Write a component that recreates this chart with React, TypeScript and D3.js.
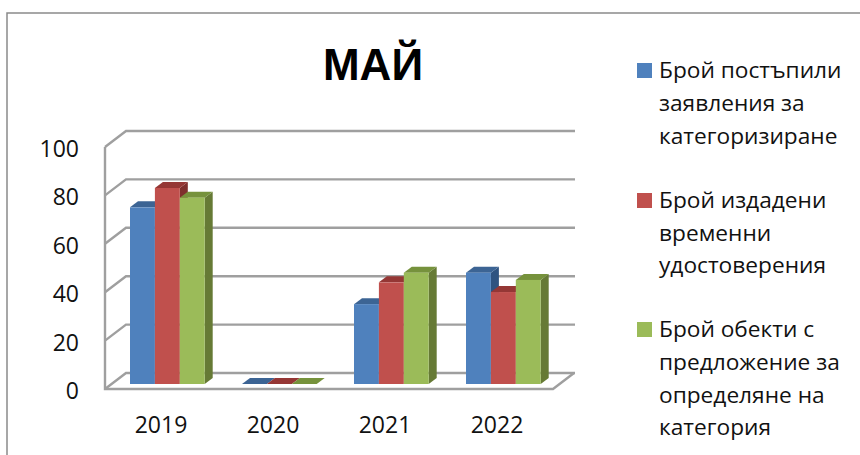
import React from "react";
import * as d3 from "d3";

const categories = ["2019", "2020", "2021", "2022"];
const posted = [73, 0, 33, 46];
const issued = [81, 0, 42, 38];
const objects = [77, 0, 46, 43];
const yTicks = [0, 20, 40, 60, 80, 100];
const title = "МАЙ";
const legendLines = [
  ["Брой постъпили", "заявления за", "категоризиране"],
  ["Брой издадени", "временни", "удостоверения"],
  ["Брой обекти с", "предложение за", "определяне на", "категория"],
];
const legendBaselines = [
  [78, 111, 144],
  [208, 241, 273],
  [337, 370, 403, 435],
];
const front = ["#4f81bd", "#c0504d", "#9bbb59"];
const top = ["#3c6494", "#953735", "#76923c"];
const side = ["#2f5380", "#7f2f2d", "#667a35"];

const FONT = "'Open Sans', sans-serif";
const wallLeft = 105;
const wallRight = 553;
const floorY = 389;
const ceilY = 147;
const dx = 21;
const dy = -16;
const barDx = 8;
const barDy = -6;

export default function App() {
  const x = d3.scaleBand<string>().domain(categories).range([wallLeft, wallRight]);
  const y = d3.scaleLinear().domain([0, 100]).range([floorY, ceilY]);
  const barW = 24.9;
  const all = [posted, issued, objects];
  const baseShiftY = -5;
  const grid = "#9f9f9f";
  return (
    <svg width={860} height={455} style={{ position: "absolute", left: 0, top: 0, background: "#fff" }}>
      <path d="M860,13 H7 V455" fill="none" stroke="#8a8a8a" strokeWidth={1.5} />
      <text x={373} y={80} textAnchor="middle" fontFamily="'Liberation Sans', sans-serif" fontWeight={700} fontSize={44} fill="#000">
        {title}
      </text>
      {yTicks.map((t) => (
        <g key={t}>
          <path
            d={`M${wallLeft},${y(t)} L${wallLeft + dx},${y(t) + dy} H${wallRight + dx + 1}`}
            fill="none"
            stroke={grid}
            strokeWidth={2.4}
          />
          <text x={79} y={y(t) + 10} textAnchor="end" fontFamily={FONT} fontSize={23} fill="#111">
            {t}
          </text>
        </g>
      ))}
      <path d={`M${wallLeft},${ceilY} V${floorY} H${wallRight} L${wallRight + dx},${floorY + dy}`} fill="none" stroke={grid} strokeWidth={2.4} />
      {categories.map((c, i) => {
        const x0 = (x(c) as number) + 25;
        return (
          <g key={c}>
            {all.map((s, k) => {
              const xl = x0 + k * barW;
              const xr = xl + barW;
              const yb = floorY + baseShiftY;
              const yt = y(s[i]) + baseShiftY;
              return (
                <g key={k}>
                  <path d={`M${xr},${yt} L${xr + barDx},${yt + barDy} V${yb + barDy} L${xr},${yb} Z`} fill={side[k]} />
                  <path d={`M${xl},${yt} L${xl + barDx},${yt + barDy} H${xr + barDx} L${xr},${yt} Z`} fill={top[k]} />
                  <rect x={xl} y={yt} width={barW} height={yb - yt} fill={front[k]} />
                </g>
              );
            })}
            <text x={x0 + 31} y={433} textAnchor="middle" fontFamily={FONT} fontSize={23} fill="#111">
              {c}
            </text>
          </g>
        );
      })}
      {legendLines.map((lines, k) => (
        <g key={k}>
          <rect x={637} y={legendBaselines[k][0] - 15} width={15} height={15} fill={front[k]} />
          {lines.map((l, j) => (
            <text key={j} x={659} y={legendBaselines[k][j]} fontFamily={FONT} fontSize={22.7} fill="#111">
              {l}
            </text>
          ))}
        </g>
      ))}
    </svg>
  );
}
